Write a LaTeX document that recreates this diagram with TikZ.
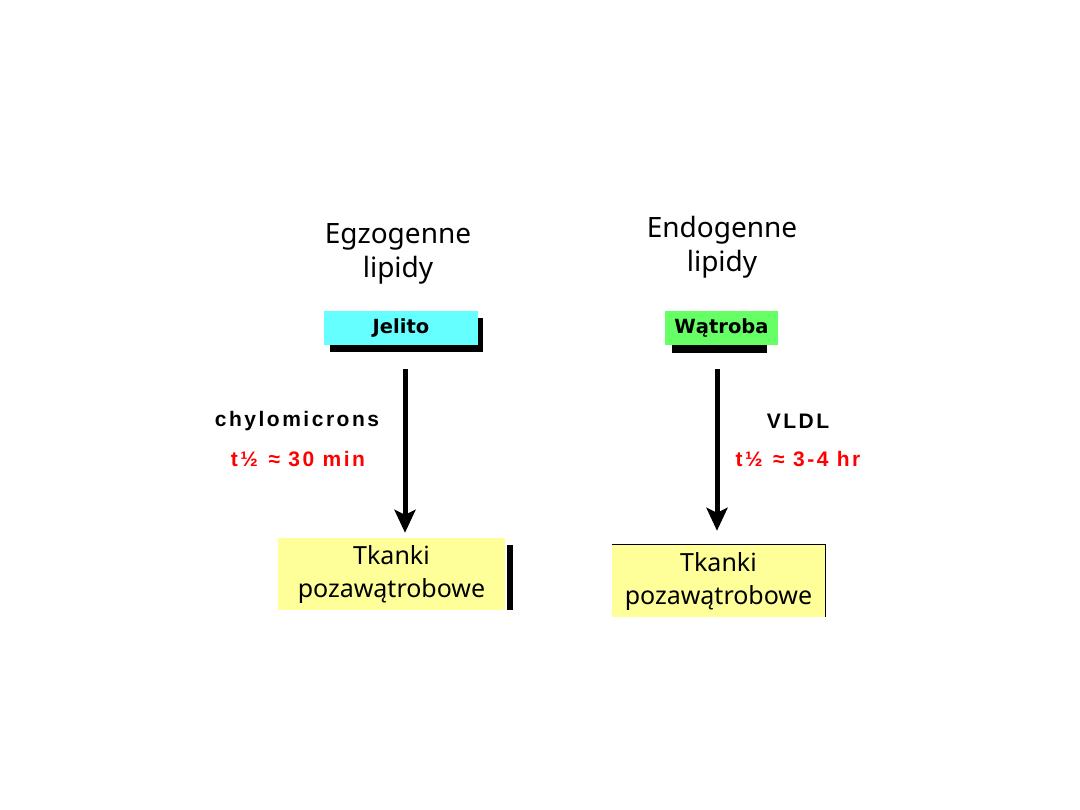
\documentclass[tikz,border=0pt]{standalone}
\usepackage{fontspec}
\setmainfont{Noto Sans}
\newfontfamily\lblfont[LetterSpace=12]{Liberation Sans}
\newfontfamily\organfont{DejaVu Sans}
\usepackage{xcolor}
\usetikzlibrary{arrows.meta,positioning,calc}
\definecolor{gutcyan}{HTML}{66FFFF}
\definecolor{livergreen}{HTML}{66FF66}
\definecolor{tissueyel}{HTML}{FFFF99}
\tikzset{
  title/.style={align=center, inner sep=0pt,
                font=\fontsize{28}{34}\selectfont},
  organ/.style={minimum height=34pt, inner sep=0pt,
                font=\organfont\bfseries\fontsize{19.5}{22}\selectfont},
  tissue/.style={fill=tissueyel, align=center, inner sep=0pt,
                 minimum height=72pt, font=\fontsize{25}{33}\selectfont},
  lipo/.style={inner sep=0pt, font=\lblfont\bfseries\fontsize{21}{24}\selectfont},
  half/.style={lipo, text=red},
  flow/.style={-{Stealth[length=23pt, width=21pt, inset=5pt]}, line width=5pt},
}

\begin{document}
\begin{tikzpicture}[x=1pt, y=-1pt]
  \fill[white] (0,0) rectangle (1080,810);
  \useasboundingbox (0,0) rectangle (1080,810);
  % sources
  \node[title] (exo) at (398,254) {Egzogenne\\lipidy};
  \node[title] (endo) at (722,247) {Endogenne\\lipidy};
  % organ boxes with shadows
  \fill[black] (330,318) rectangle (483,352);
  \node[organ, fill=gutcyan, minimum width=154pt] (gut) at (401,328) {Jelito};
  \fill[black] (672,318) rectangle (767,353);
  \node[organ, fill=livergreen, minimum width=113pt] (liver) at (721.5,328) {Wątroba};
  % target tissues
  \fill[black] (507,545) rectangle (513,610);
  \node[tissue, minimum width=227pt] (tisL) at (391.5,574) {Tkanki\\pozawątrobowe};
  \node[tissue, minimum width=213pt] (tisR) at (718.5,581) {Tkanki\\pozawątrobowe};
  \draw[line width=1pt] (tisR.north west) -- (tisR.north east) -- (tisR.south east);
  % transport
  \draw[flow] ([xshift=4pt, yshift=-24pt]gut.south)
    -- ([xshift=13.5pt, yshift=5pt]tisL.north);
  \draw[flow] ([xshift=-4.5pt, yshift=-24pt]liver.south)
    -- ([xshift=-1.5pt, yshift=14pt]tisR.north);
  \node[lipo] (chylo) at (297,421) {chylomicrons};
  \node[half] (chyloT) at (298,459) {t½\enspace ≈ 30 min};
  \node[lipo] (vldl) at (798,421) {VLDL};
  \node[half] (vldlT) at (798,459) {t½\enspace ≈ 3-4 hr};
\end{tikzpicture}
\end{document}
